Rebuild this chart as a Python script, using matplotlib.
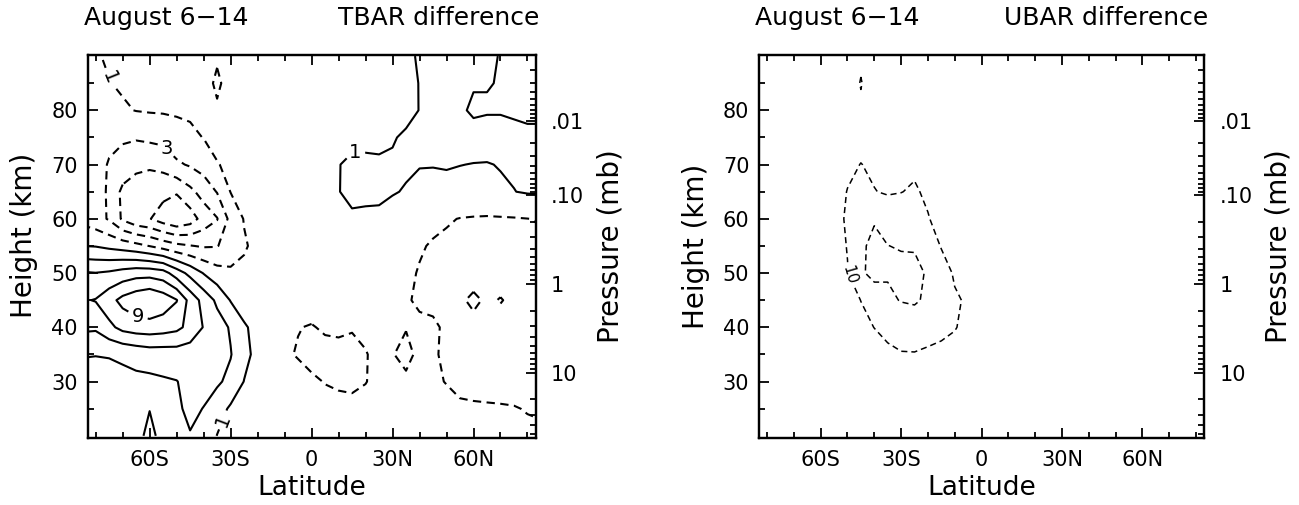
import numpy as np
import matplotlib.pyplot as plt
from matplotlib.ticker import FixedLocator

plt.rcParams['font.family'] = 'DejaVu Sans'

# grid: latitude (deg, south negative) and height (km, top row first)
lat = [-85, -80, -75, -70, -65, -60, -55, -50, -45, -40, -35, -30, -25, -20, -15, -10, -5, 0,
       5, 10, 15, 20, 25, 30, 35, 40, 45, 50, 55, 60, 65, 70, 75, 80, 85]
hgt = [90, 85, 80, 75, 70, 65, 60, 55, 50, 45, 40, 35, 30, 25, 20]

# zonal mean temperature difference (K)
tbar = [
    [-1.3, -1.15, -0.8, -0.6, -0.5, -0.45, -0.4, -0.4, -0.45, -0.5, -0.85, -0.5, -0.35, -0.3, -0.2, -0.1, 0.0, 0.1,
     0.2, 0.25, 0.3, 0.35, 0.4, 0.5, 0.6, 1.2, 1.5, 1.6, 1.5, 1.4, 1.2, 0.95, 0.7, 0.6, 0.6],
    [-1.5, -1.3, -1.05, -0.8, -0.7, -0.6, -0.55, -0.5, -0.5, -0.55, -1.2, -0.55, -0.4, -0.3, -0.2, -0.1, 0.0, 0.1,
     0.15, 0.2, 0.25, 0.3, 0.35, 0.4, 0.5, 1.05, 1.6, 1.8, 1.7, 1.1, 1.05, 0.95, 0.6, 0.5, 0.5],
    [-1.7, -1.6, -1.5, -1.2, -0.95, -0.85, -0.8, -0.75, -0.7, -0.7, -0.85, -0.6, -0.4, -0.3, -0.25, -0.15, 0.0, 0.1,
     0.15, 0.2, 0.25, 0.25, 0.3, 0.35, 0.4, 1.05, 1.7, 1.9, 1.2, 0.8, 0.9, 0.9, 0.8, 0.7, 0.7],
    [-2.2, -2.4, -2.7, -2.8, -2.8, -2.6, -2.4, -1.8, -1.4, -0.95, -0.7, -0.5, -0.4, -0.3, -0.3, -0.2, -0.1, 0.1,
     0.3, 0.45, 0.6, 0.55, 0.5, 0.85, 1.3, 1.8, 2.0, 2.0, 1.8, 1.5, 1.5, 1.5, 1.4, 1.3, 1.3],
    [-2.0, -2.5, -3.1, -3.6, -4.6, -4.7, -4.4, -3.3, -2.8, -2.2, -1.05, -0.8, -0.5, -0.4, -0.3, -0.2, 0.1, 0.3,
     0.5, 0.95, 1.3, 1.35, 1.3, 1.25, 1.2, 1.05, 1.05, 1.1, 1.02, 0.97, 0.95, 1.05, 1.2, 1.3, 1.3],
    [-1.8, -2.4, -3.2, -5.5, -5.8, -6.2, -6.4, -6.8, -5.5, -4.2, -2.9, -0.95, -0.6, -0.4, -0.3, -0.2, 0.0, 0.2,
     0.4, 0.95, 1.4, 1.35, 1.4, 1.1, 0.9, 0.7, 0.6, 0.6, 0.6, 0.7, 0.75, 0.85, 0.97, 1.15, 1.2],
    [-1.6, -2.2, -3.2, -5.3, -6.5, -6.9, -8.0, -8.8, -8.0, -6.2, -5.1, -2.4, -0.9, -0.6, -0.4, -0.2, 0.0, 0.2,
     0.3, 0.55, 0.75, 0.7, 0.6, 0.4, 0.2, -0.2, -0.6, -0.85, -1.05, -1.15, -1.2, -1.15, -1.1, -1.02, -0.9],
    [1.0, 0.9, 0.5, 0.1, -0.4, -1.05, -1.8, -2.5, -2.9, -3.2, -3.1, -2.0, -1.2, -0.5, -0.3, -0.2, -0.1, 0.0,
     0.1, 0.2, 0.2, 0.15, 0.05, -0.1, -0.4, -0.85, -1.15, -1.3, -1.3, -1.3, -1.3, -1.3, -1.3, -1.3, -1.3],
    [5.2, 5.05, 5.3, 5.8, 6.2, 6.2, 5.8, 4.0, 2.4, 0.9, -0.2, -0.7, -0.6, -0.3, -0.2, -0.1, 0.0, 0.05,
     0.1, 0.1, 0.05, 0.0, -0.1, -0.2, -0.7, -1.1, -1.3, -1.4, -1.4, -1.45, -1.45, -1.4, -1.4, -1.4, -1.4],
    [6.8, 7.1, 8.3, 9.6, 10.4, 11.0, 10.2, 9.1, 6.3, 4.3, 2.6, 0.9, 0.2, -0.1, -0.1, -0.1, -0.2, -0.3,
     -0.3, -0.3, -0.3, -0.3, -0.3, -0.6, -0.9, -1.15, -1.3, -1.35, -1.15, -0.8, -1.15, -0.95, -1.2, -1.35, -1.35],
    [5.4, 5.3, 6.5, 7.6, 8.0, 8.1, 7.9, 7.5, 6.4, 4.9, 3.9, 2.8, 1.2, 0.5, 0.2, -0.2, -0.95, -1.1,
     -0.8, -0.7, -0.9, -0.6, -0.3, -0.7, -0.95, -0.8, -0.8, -1.2, -1.3, -1.3, -1.3, -1.35, -1.3, -1.3, -1.3],
    [3.1, 3.05, 3.1, 3.3, 3.6, 3.9, 3.9, 4.0, 3.9, 3.7, 3.4, 3.1, 1.6, 0.4, 0.2, -0.8, -1.1, -1.4,
     -1.5, -1.5, -1.4, -1.1, -0.5, -0.95, -1.3, -0.75, -0.9, -1.15, -1.45, -1.5, -1.5, -1.45, -1.4, -1.4, -1.4],
    [2.3, 2.3, 2.4, 2.5, 2.6, 2.6, 2.8, 2.95, 3.5, 3.6, 3.3, 2.5, 0.95, 0.4, 0.1, -0.3, -0.5, -0.8,
     -1.05, -1.2, -1.3, -1.05, -0.6, -0.8, -0.8, -0.6, -0.8, -1.05, -1.4, -1.5, -1.5, -1.45, -1.4, -1.35, -1.35],
    [2.1, 2.1, 2.1, 2.2, 2.3, 2.95, 2.5, 2.7, 3.4, 2.95, 1.9, 0.7, 0.3, 0.1, 0.0, -0.2, -0.3, -0.4,
     -0.55, -0.6, -0.6, -0.5, -0.4, -0.4, -0.5, -0.5, -0.55, -0.6, -0.75, -0.8, -0.85, -0.9, -0.95, -1.05, -1.1],
    [2.0, 2.0, 2.0, 2.1, 2.4, 3.5, 2.4, 2.6, 2.9, 2.5, 0.95, 0.6, 0.3, 0.1, 0.0, -0.1, -0.2, -0.3,
     -0.35, -0.4, -0.4, -0.4, -0.4, -0.4, -0.4, -0.45, -0.5, -0.5, -0.55, -0.6, -0.65, -0.7, -0.75, -0.8, -0.85],
]

# zonal mean wind difference (m/s)
ubar = [
    [-1, -1, -1.5, -2, -2, -2.5, -3, -4, -9.0, -4, -3, -2.5, -2, -2, -1.5, -1.5, -1, -1,
     -1, -1, -0.5, -0.5, 0, 0, 0, 0, 0, 0, 0, 0, 0, 0, 0, 0, 0],
    [-1, -1, -1.5, -2, -2.5, -3, -4, -7, -10.3, -7, -4, -3, -2.5, -2, -1.5, -1.5, -1, -1,
     -1, -1, -0.5, -0.5, 0, 0, 0, 0, 0, 0, 0, 0, 0, 0, 0, 0, 0],
    [-1.5, -1.5, -2, -2.5, -3, -3.5, -4.5, -6, -9.0, -6, -5, -4, -3.5, -3, -2.5, -2, -1.5, -1,
     -1, -1, -0.5, -0.5, 0, 0, 0, 0, 0, 0, 0, 0, 0, 0, 0, 0, 0],
    [-2, -2, -2.5, -3, -3.5, -4, -5, -6.5, -7, -6.5, -5.5, -5, -4.5, -4, -3.5, -3, -2.5, -2,
     -1.5, -1, -1, -0.5, 0, 0, 0, 0, 0, 0, 0, 0, 0, 0, 0, 0, 0],
    [-2, -2, -2.5, -3, -3.5, -4, -6, -8, -10.2, -8.5, -7.5, -8, -8.5, -6.5, -5, -4, -3, -2.5,
     -2, -1.5, -1, -0.5, 0, 0, 0, 0, 0, 0, 0, 0, 0, 0, 0, 0, 0],
    [-2, -2, -2.5, -3, -3.5, -4, -6, -10.3, -12.5, -10.3, -9, -9.8, -11, -8.5, -6, -4.5, -3, -2.5,
     -2, -1.5, -1, -0.5, 0, 0, 0, 0, 0, 0, 0, 0, 0, 0, 0, 0, 0],
    [-2, -2, -2.5, -3, -3.5, -4, -6, -11.5, -17, -19.5, -17, -15, -13, -10.5, -7, -5, -3.5, -2.5,
     -2, -1.5, -1, -0.5, 0, 0, 0, 0, 0, 0, 0, 0, 0, 0, 0, 0, 0],
    [-2, -2, -2.5, -3, -3, -3.5, -5, -10.5, -19, -21.5, -20.1, -19.5, -19.2, -15, -9.5, -6, -4, -3,
     -2, -1.5, -1, -0.5, 0, 0, 0, 0, 0, 0, 0, 0, 0, 0, 0, 0, 0],
    [-1.5, -1.5, -2, -2.5, -3, -3, -5, -9.5, -18.5, -23, -21, -22, -22.5, -19, -14, -9, -6, -3,
     -2, -1.5, -1, -0.5, 0, 0, 0, 0, 0, 0, 0, 0, 0, 0, 0, 0, 0],
    [-1.5, -1.5, -2, -2, -2.5, -3, -4, -7, -10.1, -14, -18, -20.5, -21.5, -18, -14, -11, -9, -5,
     -3, -2, -1, -0.5, 0, 0, 0, 0, 0, 0, 0, 0, 0, 0, 0, 0, 0],
    [-1, -1, -1.5, -2, -2, -2.5, -3, -5, -8, -10.1, -12, -13, -13, -12.5, -11.5, -10.4, -8, -5,
     -3, -2, -1, -0.5, 0, 0, 0, 0, 0, 0, 0, 0, 0, 0, 0, 0, 0],
    [-1, -1, -1, -1.5, -2, -2, -3, -4, -5.5, -7, -8.5, -9.6, -9.7, -9, -8.5, -7.5, -6, -4,
     -2.5, -1.5, -1, -0.5, 0, 0, 0, 0, 0, 0, 0, 0, 0, 0, 0, 0, 0],
    [-0.5, -0.5, -1, -1, -1.5, -2, -2.5, -3, -4, -5, -6, -6.5, -6.5, -6, -5.5, -5, -4, -3,
     -2, -1, -0.5, 0, 0, 0, 0, 0, 0, 0, 0, 0, 0, 0, 0, 0, 0],
    [-0.5, -0.5, -0.5, -1, -1, -1.5, -2, -2.5, -3, -3.5, -4, -4.5, -4.5, -4, -4, -3.5, -3, -2,
     -1.5, -1, -0.5, 0, 0, 0, 0, 0, 0, 0, 0, 0, 0, 0, 0, 0, 0],
    [0, 0, -0.5, -0.5, -1, -1, -1.5, -2, -2, -2.5, -3, -3, -3, -3, -3, -2.5, -2, -1.5,
     -1, -0.5, 0, 0, 0, 0, 0, 0, 0, 0, 0, 0, 0, 0, 0, 0, 0],
]

tbar_levels = [-9, -7, -5, -3, -1, 1, 3, 5, 7, 9]
ubar_levels = [-30, -20, -10, 10, 20]

lat_ticks = [-60, -30, 0, 30, 60]
lat_labels = ['60S', '30S', '0', '30N', '60N']

# pressure scale: height (km) of each decade of pressure (mb)
p_decade = [1000.0, 100.0, 10.0, 1.0, 0.1, 0.01, 0.001]
z_decade = [-1.0, 15.5, 31.6, 48.0, 64.4, 78.0, 91.6]
p_ticks = [10, 1, 0.1, 0.01]
p_labels = ['10', '1', '.10', '.01']


def z_of_p(p):
    return float(np.interp(-np.log10(p), -np.log10(p_decade), z_decade))


def fmt_abs(v):
    return '%d' % abs(round(v))


def draw(ax, field, levels, lw, dash, title, label_pos, upright, lab_size, ylab_y):
    field = np.array(field)
    styles = ['solid' if v > 0 else (0, dash) for v in levels]
    cs = ax.contour(lat, hgt, field, levels=levels, colors='k',
                    linewidths=lw, linestyles=styles)
    texts = ax.clabel(cs, fmt=fmt_abs, manual=label_pos, inline=True,
                      inline_spacing=4, fontsize=lab_size)
    for i in upright:
        texts[i].set_rotation(0)

    ax.set_xlim(-83, 83)
    ax.set_ylim(19.6, 90.2)
    ax.set_xticks(lat_ticks, lat_labels)
    ax.xaxis.set_minor_locator(FixedLocator(range(-80, 81, 10)))
    ax.set_yticks([30, 40, 50, 60, 70, 80])
    ax.yaxis.set_minor_locator(FixedLocator([25, 35, 45, 55, 65, 75, 85]))
    ax.tick_params(which='both', direction='in', top=True, right=False,
                   labelsize=15, width=1.3)
    ax.tick_params(axis='x', which='both', pad=9)
    ax.tick_params(axis='y', which='both', pad=7)
    ax.tick_params(which='major', length=7)
    ax.tick_params(which='minor', length=4)
    for s in ax.spines.values():
        s.set_linewidth(1.6)
    ax.set_xlabel('Latitude', fontsize=19, labelpad=3)
    ax.set_ylabel('Height (km)', fontsize=20)
    ax.yaxis.set_label_coords(-0.11, ylab_y)

    # pressure scale on the right
    pax = ax.twinx()
    pax.set_ylim(ax.get_ylim())
    pax.set_yticks([z_of_p(p) for p in p_ticks], p_labels)
    minor = []
    for dec in [0.001, 0.01, 0.1, 1, 10]:
        for k in range(2, 10):
            z = z_of_p(k * dec)
            if 19.6 < z < 90.2:
                minor.append(z)
    pax.yaxis.set_minor_locator(FixedLocator(minor))
    pax.tick_params(which='both', direction='in', labelsize=15, width=1.3, pad=11)
    pax.tick_params(which='major', length=7)
    pax.tick_params(which='minor', length=4)
    for s in pax.spines.values():
        s.set_linewidth(1.6)
    pax.set_ylabel('Pressure (mb)', fontsize=20)
    pax.yaxis.set_label_coords(1.135, 0.5)

    fig = ax.figure
    bb = ax.get_position()
    fig.text(bb.x0 - 0.003, 0.965, 'August 6\u221214', fontsize=18,
             ha='left', va='center')
    fig.text(bb.x1 + 0.003, 0.965, title, fontsize=18, ha='right', va='center')


fig = plt.figure(figsize=(12.99, 5.05), dpi=100)
ax1 = fig.add_axes([0.0674, 0.1327, 0.3449, 0.7584])
ax2 = fig.add_axes([0.5843, 0.1327, 0.3426, 0.7584])

draw(ax1, tbar, tbar_levels, 1.5, (4, 2.6), 'TBAR difference',
     [(-75.5, 86), (-55, 72.3), (-64.5, 42.0), (16, 72.0), (-33.3, 23)],
     [1, 2, 3], 14, 0.53)
draw(ax2, ubar, ubar_levels, 1.1, (4, 2.6), 'UBAR difference',
     [(-49.6, 49.5)], [], 11, 0.5)

fig.savefig('out.png', dpi=100)
